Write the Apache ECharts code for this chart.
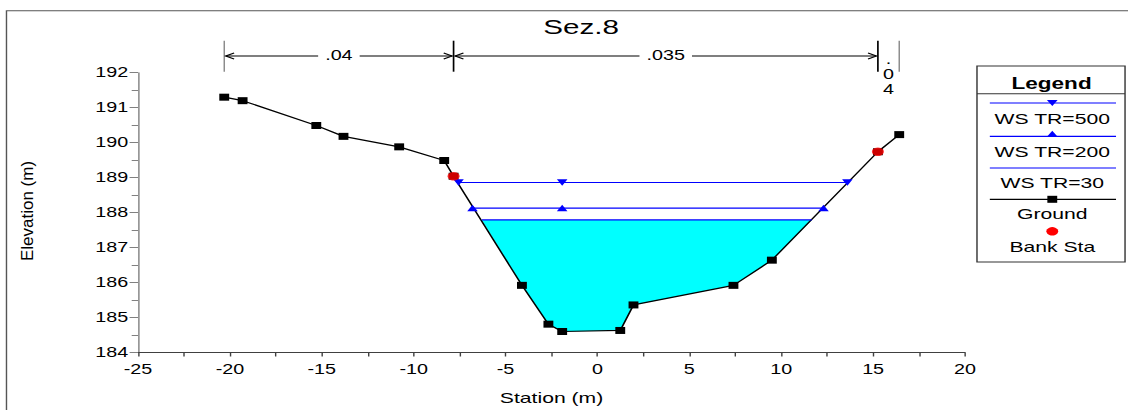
<!DOCTYPE html>
<html>
<head>
<meta charset="utf-8">
<script src="https://cdn.jsdelivr.net/npm/echarts@6/dist/echarts.min.js"></script>
<style>
html, body { margin: 0; padding: 0; background: #fff; overflow: hidden; }
#wrap { width: 1128px; height: 410px; overflow: hidden; position: relative; background: #fff; }
#chart { width: 800px; height: 410px; transform: scaleX(1.41); transform-origin: 0 0; }
</style>
</head>
<body>
<div id="wrap"><div id="chart"></div></div>
<script>
// ---- data ----
const titleText = 'Sez.8';
const xRange = [-25, 20];
const yRange = [184, 192];

const groundStation = [-20.31, -19.31, -15.30, -13.82, -10.79, -8.34, -7.83, -4.11, -2.67, -1.92, 1.24, 1.96, 7.40, 9.49, 15.26, 16.42];
const groundElev    = [191.30, 191.20, 190.49, 190.18, 189.88, 189.49, 189.04, 185.92, 184.81, 184.60, 184.63, 185.36, 185.92, 186.64, 189.74, 190.23];

const bankStation = [-7.83, 15.26];
const bankElev    = [189.04, 189.74];

const ws500Station = [-7.56, -1.92, 13.60];
const ws500Elev = 188.86;
const ws200Station = [-6.80, -1.92, 12.30];
const ws200Elev = 188.13;
const ws30Station = [-6.29, 11.66];
const ws30Elev = 187.79;

const nBreakStations = [-20.31, -7.83, 15.26, 16.42];
const nValues = ['.04', '.035', '.04'];

const legendLabels = ['WS TR=500', 'WS TR=200', 'WS TR=30', 'Ground', 'Bank Sta'];

// ---- build ----
const FONT = '"Liberation Sans", Arial, sans-serif';
const zip = (xs, ys) => xs.map((x, i) => [x, Array.isArray(ys) ? ys[i] : ys]);

const groundData = zip(groundStation, groundElev);
const bankData = zip(bankStation, bankElev);

function renderFill(params, api) {
  if (params.dataIndex !== 0) return null;
  const left = ws30Station[0], right = ws30Station[ws30Station.length - 1];
  const pts = [[left, ws30Elev]];
  groundStation.forEach((s, i) => { if (s > left && s < right) pts.push([s, groundElev[i]]); });
  pts.push([right, ws30Elev]);
  return {
    type: 'polygon',
    shape: { points: pts.map(p => api.coord(p)) },
    style: { fill: '#00ffff', stroke: null }
  };
}

function renderBreak(params, api) {
  const x = api.coord([api.value(0), yRange[1]])[0];
  const top = params.coordSys.y;
  const idx = api.value(1);
  const outer = idx === 0 || idx === nBreakStations.length - 1;
  return {
    type: 'line',
    shape: { x1: x, y1: top - 32, x2: x, y2: top - 1 },
    style: { stroke: outer ? '#7a7a7a' : '#000', lineWidth: outer ? 0.9 : 1.2 }
  };
}

function renderRegion(params, api) {
  const x1 = api.coord([api.value(0), yRange[1]])[0];
  const x2 = api.coord([api.value(1), yRange[1]])[0];
  const top = params.coordSys.y;
  const y = top - 16.7;
  const label = nValues[api.value(2)];
  if (x2 - x1 < 30) {
    return {
      type: 'text',
      style: {
        text: label.split('').join('\n'), x: (x1 + x2) / 2, y: top - 20.2,
        align: 'center', verticalAlign: 'top', lineHeight: 15,
        fontSize: 14, fontFamily: FONT, fill: '#000'
      }
    };
  }
  const st = { stroke: '#000', lineWidth: 1, fill: null };
  return {
    type: 'group',
    children: [
      { type: 'line', shape: { x1: x1 + 1, y1: y, x2: x2 - 1, y2: y }, style: st },
      { type: 'polyline', shape: { points: [[x1 + 7, y - 3], [x1 + 1, y], [x1 + 7, y + 3]] }, style: st },
      { type: 'polyline', shape: { points: [[x2 - 7, y - 3], [x2 - 1, y], [x2 - 7, y + 3]] }, style: st },
      {
        type: 'text',
        style: {
          text: label, x: (x1 + x2) / 2, y: y, align: 'center', verticalAlign: 'middle',
          fontSize: 14, fontFamily: FONT, fill: '#000', backgroundColor: '#fff', padding: [1, 5]
        }
      }
    ]
  };
}

// legend graphics (base coords; page is stretched horizontally by 1.41)
const LX0 = 692.9, LX1 = 797.9, LCX = 746.3, LL0 = 702, LL1 = 791.5;
const legendGraphics = [
  { type: 'rect', shape: { x: LX0, y: 66, width: LX1 - LX0, height: 196 }, style: { fill: '#fff', stroke: '#333', lineWidth: 1 }, z: 10 },
  { type: 'text', x: LCX - 0.5, y: 83, style: { text: 'Legend', align: 'center', verticalAlign: 'middle', fontSize: 16, fontWeight: 'bold', fontFamily: FONT, fill: '#000' }, z: 11 },
  { type: 'line', shape: { x1: LX0, y1: 93.8, x2: LX1, y2: 93.8 }, style: { stroke: '#333', lineWidth: 1 }, z: 11 },
  // WS TR=500
  { type: 'line', shape: { x1: LL0, y1: 103, x2: LL1, y2: 103 }, style: { stroke: '#0000ff', lineWidth: 1.2 }, z: 11 },
  { type: 'polygon', shape: { points: [[LCX - 3.8, 100], [LCX + 3.8, 100], [LCX, 106]] }, style: { fill: '#0000ff' }, z: 11 },
  { type: 'text', x: LCX, y: 119, style: { text: legendLabels[0], align: 'center', verticalAlign: 'middle', fontSize: 15, fontFamily: FONT, fill: '#000' }, z: 11 },
  // WS TR=200
  { type: 'line', shape: { x1: LL0, y1: 136.3, x2: LL1, y2: 136.3 }, style: { stroke: '#0000ff', lineWidth: 1.2 }, z: 11 },
  { type: 'polygon', shape: { points: [[LCX - 3.8, 136.8], [LCX + 3.8, 136.8], [LCX, 130.8]] }, style: { fill: '#0000ff' }, z: 11 },
  { type: 'text', x: LCX, y: 151.5, style: { text: legendLabels[1], align: 'center', verticalAlign: 'middle', fontSize: 15, fontFamily: FONT, fill: '#000' }, z: 11 },
  // WS TR=30
  { type: 'line', shape: { x1: LL0, y1: 168, x2: LL1, y2: 168 }, style: { stroke: '#0000ff', lineWidth: 1.2 }, z: 11 },
  { type: 'text', x: LCX, y: 182.5, style: { text: legendLabels[2], align: 'center', verticalAlign: 'middle', fontSize: 15, fontFamily: FONT, fill: '#000' }, z: 11 },
  // Ground
  { type: 'line', shape: { x1: LL0, y1: 199.3, x2: LL1, y2: 199.3 }, style: { stroke: '#000', lineWidth: 1.2 }, z: 11 },
  { type: 'rect', shape: { x: LCX - 3.5, y: 195.8, width: 7, height: 7 }, style: { fill: '#000' }, z: 11 },
  { type: 'text', x: LCX, y: 213.7, style: { text: legendLabels[3], align: 'center', verticalAlign: 'middle', fontSize: 15, fontFamily: FONT, fill: '#000' }, z: 11 },
  // Bank Sta
  { type: 'circle', shape: { cx: LCX, cy: 231.3, r: 4.2 }, style: { fill: '#ff0000' }, z: 11 },
  { type: 'text', x: LCX, y: 246.5, style: { text: legendLabels[4], align: 'center', verticalAlign: 'middle', fontSize: 15, fontFamily: FONT, fill: '#000' }, z: 11 }
];

const chart = echarts.init(document.getElementById('chart'), null, { renderer: 'svg' });

const axisColorX = '#404040';
const axisColorY = '#808080';

const option = {
  animation: false,
  backgroundColor: '#fff',
  title: {
    text: titleText, left: 385.3, top: 16, padding: 0,
    textStyle: { fontSize: 21, fontWeight: 'normal', fontFamily: FONT, color: '#000' }
  },
  grid: { left: 97.9, right: 115.6, top: 72.7, bottom: 56.7, containLabel: false },
  xAxis: {
    type: 'value', min: xRange[0], max: xRange[1], interval: 5,
    name: 'Station (m)', nameLocation: 'middle', nameGap: 37.5,
    nameTextStyle: { fontSize: 15, fontFamily: FONT, color: '#000' },
    axisLine: { show: true, onZero: false, lineStyle: { color: axisColorX, width: 1 } },
    axisTick: { show: true, length: 4, lineStyle: { color: axisColorX } },
    minorTick: { show: true, splitNumber: 2, length: 4, lineStyle: { color: axisColorX } },
    axisLabel: { margin: 10, fontSize: 14, fontFamily: FONT, color: '#000' },
    splitLine: { show: false }, minorSplitLine: { show: false }
  },
  yAxis: {
    type: 'value', min: yRange[0], max: yRange[1], interval: 1,
    axisLine: { show: true, onZero: false, lineStyle: { color: axisColorY, width: 1 } },
    axisTick: { show: true, length: 6, lineStyle: { color: axisColorY } },
    minorTick: { show: true, splitNumber: 2, length: 4.5, lineStyle: { color: axisColorY } },
    axisLabel: { margin: 7, fontSize: 14, fontFamily: FONT, color: '#000' },
    splitLine: { show: false }, minorSplitLine: { show: false }
  },
  graphic: [
    { type: 'rect', shape: { x: 4.6, y: 10.7, width: 900, height: 500 }, style: { fill: null, stroke: '#555', lineWidth: 1 }, z: 0, silent: true },
    { type: 'text', x: 19.5, y: 211, rotation: Math.PI / 2, scaleX: 1, scaleY: 0.71,
      style: { text: 'Elevation (m)', align: 'center', verticalAlign: 'middle', fontSize: 17, fontFamily: FONT, fill: '#000' } }
  ].concat(legendGraphics),
  series: [
    {
      type: 'custom', name: 'WS TR=30 fill', coordinateSystem: 'cartesian2d',
      renderItem: renderFill, data: [[ws30Station[0], ws30Elev]], z: 1, silent: true
    },
    {
      type: 'line', name: 'Ground', data: groundData, z: 3,
      symbol: 'rect', symbolSize: 7, showSymbol: true,
      itemStyle: { color: '#000' }, lineStyle: { color: '#000', width: 1.2 }
    },
    {
      type: 'line', name: 'WS TR=500', data: zip(ws500Station, ws500Elev), z: 4,
      symbol: 'triangle', symbolRotate: 180, symbolSize: [7.5, 6.5],
      itemStyle: { color: '#0000ff' }, lineStyle: { color: '#0000ff', width: 1.2 }
    },
    {
      type: 'line', name: 'WS TR=200', data: zip(ws200Station, ws200Elev), z: 4,
      symbol: 'triangle', symbolSize: [7.5, 6.5],
      itemStyle: { color: '#0000ff' }, lineStyle: { color: '#0000ff', width: 1.2 }
    },
    {
      type: 'line', name: 'WS TR=30', data: zip(ws30Station, ws30Elev), z: 4,
      symbol: 'none', lineStyle: { color: '#0000ff', width: 1.2 }
    },
    {
      type: 'scatter', name: 'Bank Sta', data: bankData, z: 5,
      symbol: 'circle', symbolSize: 8.5, itemStyle: { color: '#ff0000' }
    },
    {
      type: 'custom', name: 'n breaks', coordinateSystem: 'cartesian2d', clip: false,
      renderItem: renderBreak, data: nBreakStations.map((s, i) => [s, i]), z: 6, silent: true
    },
    {
      type: 'custom', name: 'n values', coordinateSystem: 'cartesian2d', clip: false,
      renderItem: renderRegion,
      data: nValues.map((v, i) => [nBreakStations[i], nBreakStations[i + 1], i]), z: 6, silent: true
    }
  ]
};
chart.setOption(option);
</script>
</body>
</html>
